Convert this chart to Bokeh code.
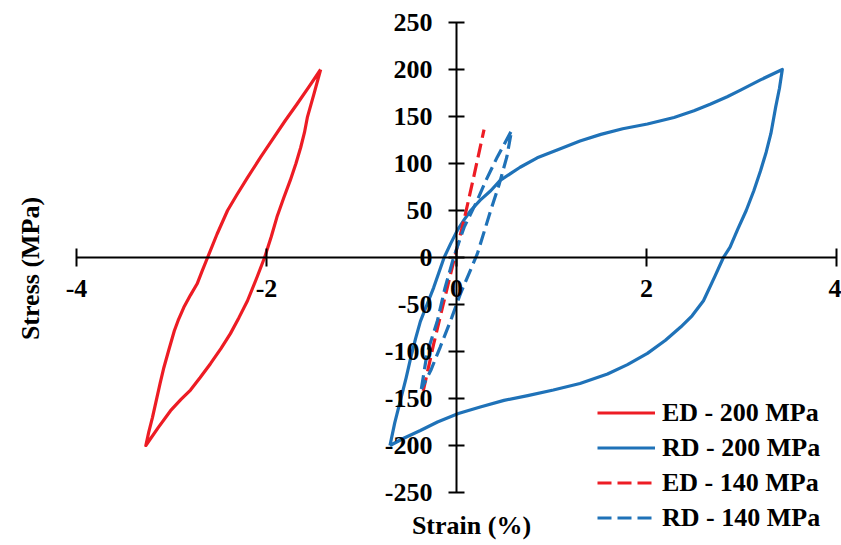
import math
from bokeh.plotting import figure
from bokeh.models import Range1d, FixedTicker, Legend, LegendItem, Label, CustomJSTickFormatter
from bokeh.embed import file_html
from bokeh.resources import INLINE

# ---- data (strain %, stress MPa) ----
ed200_x = [-1.43, -1.55, -1.68, -1.80, -1.92, -2.06, -2.20, -2.31, -2.41, -2.52, -2.62, -2.68, -2.73, -2.80,
           -2.87, -2.93, -2.97, -3.03, -3.08, -3.12, -3.16, -3.20, -3.24, -3.27,
           -3.14, -3.01, -2.90, -2.80, -2.70, -2.59, -2.48, -2.38, -2.29, -2.20, -2.10, -2.02, -1.95, -1.89,
           -1.82, -1.75, -1.69, -1.64, -1.60, -1.57, -1.50, -1.43]
ed200_y = [200, 182, 163, 146, 128, 107, 85, 67, 50, 25, 0, -15, -28, -40,
           -53, -67, -78, -99, -117, -134, -152, -170, -186, -200,
           -181, -163, -151, -141, -128, -113, -97, -81, -64, -46, -21, 0, 22, 43,
           63, 82, 100, 117, 133, 149, 174, 200]

rd200_x = [-0.70, -0.65, -0.59, -0.53, -0.48, -0.43, -0.38, -0.31, -0.24, -0.13, -0.06, 0.01, 0.08, 0.15,
           0.25, 0.36, 0.46, 0.58, 0.67, 0.85, 1.10, 1.30, 1.52, 1.75, 2.01, 2.29, 2.50, 2.67, 2.85, 2.99,
           3.20, 3.43,
           3.40, 3.36, 3.31, 3.26, 3.20, 3.13, 3.05, 2.96, 2.88, 2.81, 2.72, 2.60, 2.48, 2.36, 2.20, 2.01,
           1.80, 1.59, 1.30, 1.02, 0.75, 0.50, 0.25, 0.02, -0.20, -0.38, -0.55, -0.70]
rd200_y = [-200, -176, -152, -128, -106, -86, -68, -50, -32, 0, 15, 29, 40, 50,
           61, 71, 82, 90, 96, 106, 116, 124, 131, 137, 142, 149, 156, 163, 171, 178,
           189, 200,
           180, 160, 132, 112, 92, 71, 50, 30, 11, 0, -20, -46, -62, -74, -88, -102,
           -114, -124, -134, -141, -147, -152, -159, -166, -175, -184, -192, -200]

ed140_x = [-0.35, -0.24, -0.14, -0.01, 0.08, 0.18, 0.29]
ed140_y = [-142, -92, -50, 4, 40, 85, 136]

rd140_x = [-0.37, -0.31, -0.20, -0.12, -0.03, 0.08, 0.22, 0.31, 0.43, 0.58,
           0.53, 0.45, 0.36, 0.22, 0.04, -0.05, -0.17, -0.27, -0.37]
rd140_y = [-140, -102, -67, -32, 0, 32, 61, 82, 107, 135,
           107, 78, 50, 4, -39, -64, -95, -120, -140]

series_names = ["ED - 200 MPa", "RD - 200 MPa", "ED - 140 MPa", "RD - 140 MPa"]
x_ticks = [-4, -2, 0, 2, 4]
y_ticks = [-250, -200, -150, -100, -50, 0, 50, 100, 150, 200, 250]

RED = "#ED1C24"
BLUE = "#1F72B8"
FONT = "Liberation Serif"

p = figure(width=841, height=545, output_backend="svg", toolbar_location=None,
           x_range=Range1d(-4.8, 4.053), y_range=Range1d(-306.4, 273.4),
           min_border=0)
p.xgrid.visible = False
p.ygrid.visible = False
p.outline_line_color = None
p.background_fill_color = "white"

for ax, ticks, bnds in ((p.xaxis, x_ticks, (-4, 4)), (p.yaxis, y_ticks, (-250, 250))):
    ax.fixed_location = 0
    ax.bounds = bnds
    ax.ticker = FixedTicker(ticks=ticks)
    ax.formatter = CustomJSTickFormatter(code="return String(tick);")
    ax.axis_line_width = 2
    ax.axis_line_color = "black"
    ax.major_tick_line_width = 2
    ax.major_tick_line_color = "black"
    ax.minor_tick_line_color = None
    ax.major_label_text_font = FONT
    ax.major_label_text_font_style = "bold"
    ax.major_label_text_font_size = "26px"
    ax.major_label_text_color = "black"

p.xaxis.major_tick_in = 9
p.xaxis.major_tick_out = 9
p.xaxis.major_label_standoff = 14
p.yaxis.major_tick_in = 8
p.yaxis.major_tick_out = 8
p.yaxis.major_label_standoff = 16

r1 = p.line(ed200_x, ed200_y, line_color=RED, line_width=3.2, line_join="round")
r2 = p.line(rd200_x, rd200_y, line_color=BLUE, line_width=3.2, line_join="round")
r3 = p.line(ed140_x, ed140_y, line_color=RED, line_width=3.2, line_dash="14 6")
r4 = p.line(rd140_x, rd140_y, line_color=BLUE, line_width=3.2, line_dash="14 6")

legend = Legend(items=[LegendItem(label=n, renderers=[r]) for n, r in zip(series_names, [r1, r2, r3, r4])],
                location=(597, 10), padding=0, margin=0, spacing=0,
                glyph_width=58, glyph_height=35, label_height=35, label_standoff=7,
                label_text_font=FONT, label_text_font_style="bold", label_text_font_size="26px",
                label_text_color="black", border_line_color=None, background_fill_alpha=0)
p.add_layout(legend)

p.add_layout(Label(x=-4.48, y=-11.7, text="Stress (MPa)", angle=math.pi / 2,
                   text_align="center", text_baseline="middle", text_font=FONT,
                   text_font_style="bold", text_font_size="26px", text_color="black"))
p.add_layout(Label(x=0.158, y=-285, text="Strain (%)",
                   text_align="center", text_baseline="middle", text_font=FONT,
                   text_font_style="bold", text_font_size="26px", text_color="black"))

open("out.html", "w").write(file_html(p, INLINE))
